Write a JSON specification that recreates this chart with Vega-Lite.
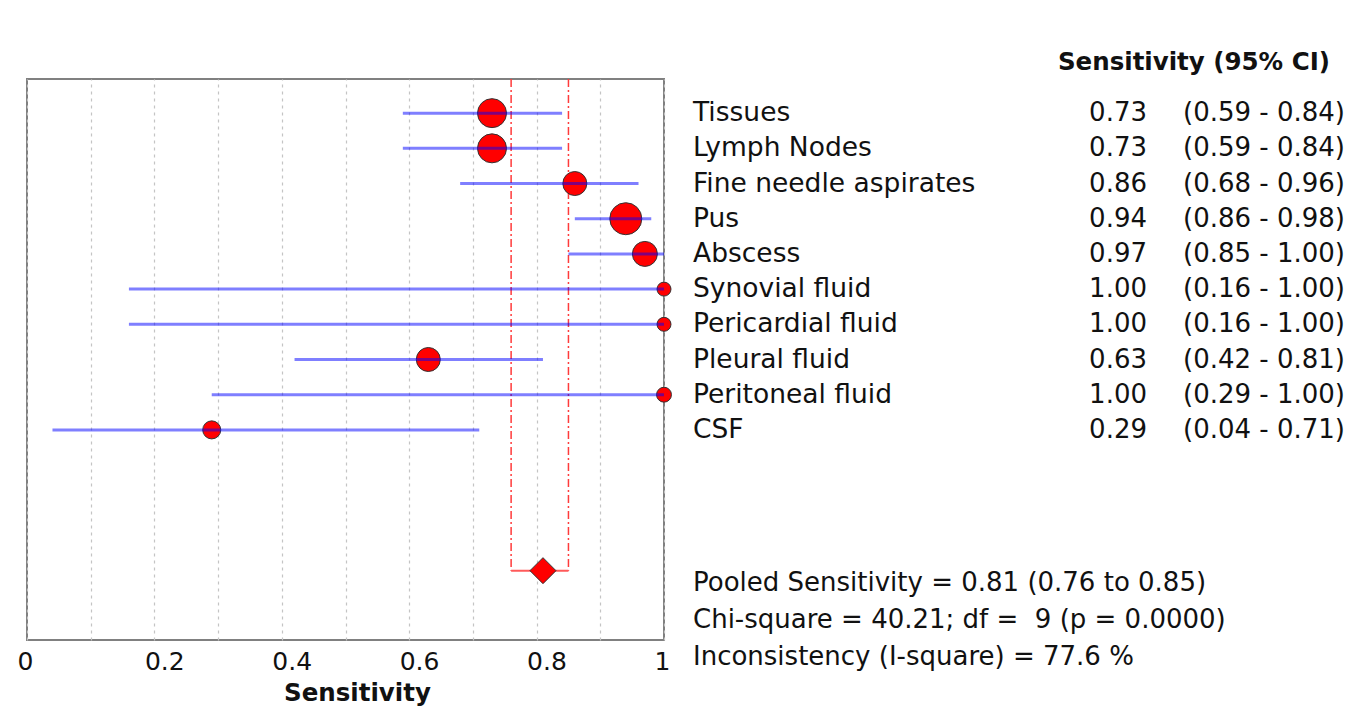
{
  "$schema": "https://vega.github.io/schema/vega-lite/v6.json",
  "description": "Forest plot of sensitivity by specimen type with the pooled estimate.",
  "width": 637,
  "height": 561,
  "autosize": {"type": "none"},
  "padding": {"left": 27, "top": 79, "right": 682, "bottom": 76},
  "background": "white",
  "config": {
    "font": "DejaVu Sans",
    "view": {"stroke": "#808080", "strokeWidth": 2},
    "text": {"color": "#111111"}
  },
  "datasets": {
    "studies": [
      {"study": "Tissues", "row": 0, "sens": 0.73, "lo": 0.59, "hi": 0.84, "weight": 15.5},
      {"study": "Lymph Nodes", "row": 1, "sens": 0.73, "lo": 0.59, "hi": 0.84, "weight": 15.5},
      {"study": "Fine needle aspirates", "row": 2, "sens": 0.86, "lo": 0.68, "hi": 0.96, "weight": 10.6},
      {"study": "Pus", "row": 3, "sens": 0.94, "lo": 0.86, "hi": 0.98, "weight": 18.9},
      {"study": "Abscess", "row": 4, "sens": 0.97, "lo": 0.85, "hi": 1.0, "weight": 11.5},
      {"study": "Synovial fluid", "row": 5, "sens": 1.0, "lo": 0.16, "hi": 1.0, "weight": 3.6},
      {"study": "Pericardial fluid", "row": 6, "sens": 1.0, "lo": 0.16, "hi": 1.0, "weight": 3.6},
      {"study": "Pleural fluid", "row": 7, "sens": 0.63, "lo": 0.42, "hi": 0.81, "weight": 10.6},
      {"study": "Peritoneal fluid", "row": 8, "sens": 1.0, "lo": 0.29, "hi": 1.0, "weight": 4.1},
      {"study": "CSF", "row": 9, "sens": 0.29, "lo": 0.04, "hi": 0.71, "weight": 6.0}
    ],
    "pooled": [
      {"est": 0.81, "lo": 0.76, "hi": 0.85, "chi2": 40.21, "df": 9, "p": 0.0, "i2": 77.6}
    ]
  },
  "layer": [
    {
      "data": {"name": "pooled"},
      "mark": {"type": "rule", "color": "#ff3b3b", "strokeWidth": 1.5, "strokeDash": [8, 3, 2, 3]},
      "encoding": {
        "x": {
          "field": "lo",
          "type": "quantitative",
          "scale": {"domain": [0, 1], "nice": false, "zero": false},
          "axis": {
            "values": [0, 0.1, 0.2, 0.3, 0.4, 0.5, 0.6, 0.7, 0.8, 0.9, 1],
            "format": ".1~f",
            "labelExpr": "indexof(['0','0.2','0.4','0.6','0.8','1'], datum.label) >= 0 ? datum.label : ''",
            "domain": false,
            "ticks": false,
            "tickSize": 0,
            "grid": true,
            "gridColor": "#c4c4c4",
            "gridDash": [3, 4],
            "gridWidth": 1.2,
            "labelAlign": "left",
            "labelOffset": -10,
            "labelPadding": 9,
            "labelFontSize": 25,
            "labelColor": "#111111",
            "labelFlush": false,
            "labelOverlap": false,
            "labelBound": false,
            "title": "Sensitivity",
            "titleFontSize": 24.5,
            "titleFontWeight": "bold",
            "titleColor": "#111111",
            "titleX": 330,
            "titleY": 53,
            "titleBaseline": "middle",
            "titleAlign": "center"
          }
        },
        "y": {
          "datum": -0.97,
          "type": "quantitative",
          "scale": {"domain": [-0.97, 14.97], "reverse": true, "nice": false, "zero": false},
          "axis": null
        },
        "y2": {"datum": 13}
      }
    },
    {
      "data": {"name": "pooled"},
      "mark": {"type": "rule", "color": "#ff3b3b", "strokeWidth": 1.5, "strokeDash": [8, 3, 2, 3]},
      "encoding": {
        "x": {"field": "hi", "type": "quantitative"},
        "y": {"datum": -0.97, "type": "quantitative"},
        "y2": {"datum": 13}
      }
    },
    {
      "data": {"name": "pooled"},
      "mark": {"type": "rule", "color": "#ff5a5a", "strokeWidth": 2},
      "encoding": {
        "x": {"field": "lo", "type": "quantitative"},
        "x2": {"field": "hi"},
        "y": {"datum": 13, "type": "quantitative"}
      }
    },
    {
      "data": {"name": "studies"},
      "mark": {"type": "point", "shape": "circle", "filled": true, "fill": "#ff0000", "fillOpacity": 1, "stroke": "#333333", "strokeWidth": 1, "opacity": 1},
      "encoding": {
        "x": {"field": "sens", "type": "quantitative"},
        "y": {"field": "row", "type": "quantitative"},
        "size": {
          "field": "weight",
          "type": "quantitative",
          "scale": {"type": "linear", "domain": [0, 100], "range": [0, 5424]},
          "legend": null
        }
      }
    },
    {
      "data": {"name": "studies"},
      "mark": {"type": "rule", "color": "#0000ff", "opacity": 0.5, "strokeWidth": 3},
      "encoding": {
        "x": {"field": "lo", "type": "quantitative"},
        "x2": {"field": "hi"},
        "y": {"field": "row", "type": "quantitative"}
      }
    },
    {
      "data": {"name": "pooled"},
      "mark": {"type": "point", "shape": "diamond", "filled": true, "fill": "#ff0000", "fillOpacity": 1, "stroke": "#333333", "strokeWidth": 1, "size": 676, "opacity": 1},
      "encoding": {
        "x": {"field": "est", "type": "quantitative"},
        "y": {"datum": 13, "type": "quantitative"}
      }
    },
    {
      "data": {"name": "studies"},
      "mark": {"type": "text", "align": "left", "baseline": "middle", "dx": 29, "fontSize": 26.5},
      "encoding": {
        "x": {"datum": 1, "type": "quantitative"},
        "y": {"field": "row", "type": "quantitative"},
        "text": {"field": "study"}
      }
    },
    {
      "data": {"name": "studies"},
      "mark": {"type": "text", "align": "right", "baseline": "middle", "dx": 483, "fontSize": 26},
      "encoding": {
        "x": {"datum": 1, "type": "quantitative"},
        "y": {"field": "row", "type": "quantitative"},
        "text": {"field": "sens", "format": ".2f"}
      }
    },
    {
      "data": {"name": "studies"},
      "mark": {
        "type": "text",
        "align": "left",
        "baseline": "middle",
        "dx": 519,
        "fontSize": 26,
        "text": {"expr": "'(' + format(datum.lo, '.2f') + ' - ' + format(datum.hi, '.2f') + ')'"}
      },
      "encoding": {
        "x": {"datum": 1, "type": "quantitative"},
        "y": {"field": "row", "type": "quantitative"}
      }
    },
    {
      "data": {"values": [{"header": "Sensitivity (95% CI)"}]},
      "mark": {"type": "text", "align": "right", "baseline": "middle", "dx": 666, "fontSize": 24.5, "fontWeight": "bold"},
      "encoding": {
        "x": {"datum": 1, "type": "quantitative"},
        "y": {"datum": -1.42, "type": "quantitative"},
        "text": {"field": "header"}
      }
    },
    {
      "data": {"name": "pooled"},
      "mark": {
        "type": "text",
        "align": "left",
        "baseline": "middle",
        "dx": 29,
        "fontSize": 26,
        "lineHeight": 37,
        "text": {"expr": "['Pooled Sensitivity = ' + format(datum.est, '.2f') + ' (' + format(datum.lo, '.2f') + ' to ' + format(datum.hi, '.2f') + ')', 'Chi-square = ' + format(datum.chi2, '.2f') + '; df = \u00a0' + datum.df + ' (p = ' + format(datum.p, '.4f') + ')', 'Inconsistency (I-square) = ' + format(datum.i2, '.1f') + ' %']"}
      },
      "encoding": {
        "x": {"datum": 1, "type": "quantitative"},
        "y": {"datum": 13.35, "type": "quantitative"}
      }
    }
  ]
}
